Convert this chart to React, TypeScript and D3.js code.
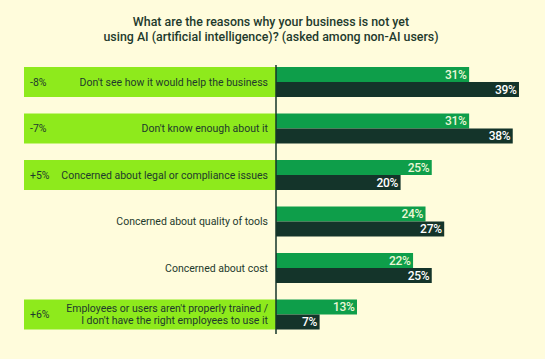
import React from "react";
import * as d3 from "d3";

const categories = [
  "Don't see how it would help the business",
  "Don't know enough about it",
  "Concerned about legal or compliance issues",
  "Concerned about quality of tools",
  "Concerned about cost",
  "Employees or users aren't properly trained / I don't have the right employees to use it",
];
const labelLines = [
  ["Don't see how it would help the business"],
  ["Don't know enough about it"],
  ["Concerned about legal or compliance issues"],
  ["Concerned about quality of tools"],
  ["Concerned about cost"],
  ["Employees or users aren't properly trained /", "I don't have the right employees to use it"],
];
const seriesA = [31, 31, 25, 24, 22, 13];
const seriesB = [39, 38, 20, 27, 25, 7];
const deltas = ["-8%", "-7%", "+5%", "", "", "+6%"];
const titleLines = [
  "What are the reasons why your business is not yet",
  "using AI (artificial intelligence)? (asked among non-AI users)",
];

const W = 545;
const H = 359;
const BG = "#FFFCDC";
const BAND = "#8EEA1C";
const LIGHT = "#0E9E4A";
const DARK = "#14342A";
const TEXT = "#1E3A2C";
const FONT = "Roboto, 'Noto Sans', sans-serif";

export default function App() {
  const axisX = 276;
  const x = d3.scaleLinear().domain([0, 40]).range([axisX, axisX + 40 * 6.23]);
  const y = d3
    .scaleBand<string>()
    .domain(categories)
    .range([67, 329.5])
    .paddingInner(0.355)
    .paddingOuter(0);
  const bw = y.bandwidth();
  const bh = bw / 2;

  return (
    <svg
      width={W}
      height={H}
      style={{ position: "absolute", left: 0, top: 0, background: BG }}
      fontFamily={FONT}
    >
      <rect x={0} y={0} width={W} height={H} fill={BG} />
      {titleLines.map((t, i) => (
        <text
          key={i}
          x={271}
          y={26 + i * 15}
          textAnchor="middle"
          fontSize={12.4}
          fontWeight={500}
          fill={TEXT}
        >
          {t}
        </text>
      ))}
      {categories.map((c, i) => {
        const y0 = y(c)!;
        const cy = y0 + bw / 2;
        const lines = labelLines[i];
        return (
          <g key={c}>
            {deltas[i] && (
              <rect x={24} y={y0} width={axisX - 24} height={bw} fill={BAND} />
            )}
            {deltas[i] && (
              <text x={30} y={cy} dy="0.35em" fontSize={10.5} fill={TEXT}>
                {deltas[i]}
              </text>
            )}
            {lines.map((l, j) => (
              <text
                key={j}
                x={268}
                y={cy + (j - (lines.length - 1) / 2) * 12}
                dy="0.35em"
                textAnchor="end"
                fontSize={10.5}
                fill={TEXT}
              >
                {l}
              </text>
            ))}
            <rect x={axisX} y={y0} width={x(seriesA[i]) - axisX} height={bh} fill={LIGHT} />
            <rect x={axisX} y={y0 + bh} width={x(seriesB[i]) - axisX} height={bh} fill={DARK} />
            <text
              x={x(seriesA[i]) - 2.5}
              y={y0 + bh / 2}
              dy="0.36em"
              textAnchor="end"
              fontSize={12}
              fontWeight={500}
              letterSpacing={-0.3}
              fill="#EAF7D6"
            >
              {seriesA[i]}%
            </text>
            <text
              x={x(seriesB[i]) - 2.5}
              y={y0 + bh * 1.5}
              dy="0.36em"
              textAnchor="end"
              fontSize={12}
              fontWeight={500}
              letterSpacing={-0.3}
              fill="#FFFFFF"
            >
              {seriesB[i]}%
            </text>
          </g>
        );
      })}
      <line x1={axisX} x2={axisX} y1={65} y2={334} stroke={DARK} strokeWidth={1.5} />
    </svg>
  );
}
